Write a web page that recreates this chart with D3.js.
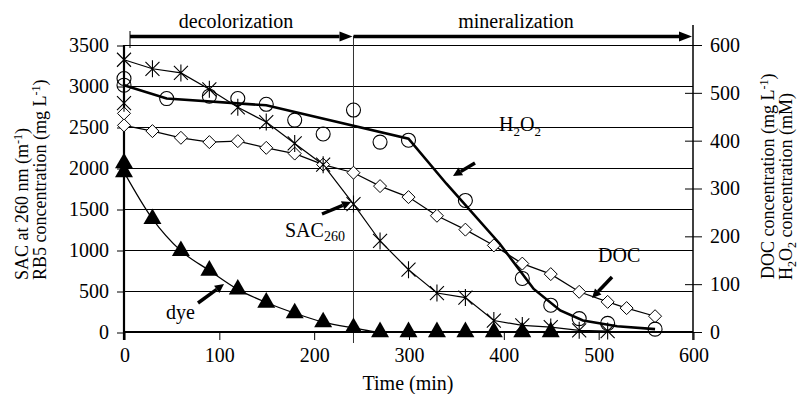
<!DOCTYPE html>
<html>
<head>
<meta charset="utf-8">
<script src="https://cdn.jsdelivr.net/npm/d3@7"></script>
<style>
  body { margin: 0; background: #fff; }
</style>
</head>
<body>
<div id="chart"></div>
<script>
// time axis (min)
const xTicks = [0, 100, 200, 300, 400, 500, 600];
const leftTicks = [0, 500, 1000, 1500, 2000, 2500, 3000, 3500];
const rightTicks = [0, 100, 200, 300, 400, 500, 600];

// RB5 dye (left axis)
const dyeT = [0, 30, 60, 90, 120, 150, 180, 210, 242, 270, 300, 330, 360, 390, 420, 450];
const dyeV = [1950, 1380, 990, 750, 520, 360, 230, 120, 50, 0, 0, 0, 0, 0, 0, 0];
const dyeExtraT = [0];
const dyeExtraV = [2060];

// SAC260 (left axis)
const sacT = [0, 30, 60, 90, 120, 150, 180, 210, 242, 270, 300, 330, 360, 390, 420, 450, 480, 510];
const sacV = [3320, 3210, 3160, 2960, 2740, 2560, 2300, 2040, 1560, 1110, 760, 475, 420, 140, 80, 60, 20, 12];
const sacExtraT = [0];
const sacExtraV = [2790];

// H2O2 (right axis)
const h2o2T = [0, 45, 90, 120, 150, 180, 210, 242, 270, 300, 360, 420, 450, 480, 510, 560];
const h2o2V = [516, 488, 493, 488, 476, 443, 414, 464, 397, 401, 275, 112, 56, 28, 18, 6];
const h2o2ExtraT = [0];
const h2o2ExtraV = [530];
// H2O2 model curve (right axis)
const h2o2FitT = [0, 45, 150, 300, 340, 396, 432, 460, 484, 520, 560];
const h2o2FitV = [516, 488, 474, 404, 310, 185, 90, 45, 24, 12, 6];

// DOC (right axis)
const docT = [0, 30, 60, 90, 120, 150, 180, 210, 242, 270, 300, 330, 360, 390, 420, 450, 480, 510, 530, 560];
const docV = [432, 420, 406, 397, 399, 385, 373, 350, 333, 305, 282, 243, 214, 181, 143, 121, 84, 63, 50, 33];
const docExtraT = [0];
const docExtraV = [457];

const phaseSplit = 242;

const width = 798, height = 394;
const fs = 20;
const sub = 13;
const serif = "Liberation Serif";

const svg = d3.select("#chart").append("svg")
  .attr("width", width).attr("height", height)
  .attr("font-family", serif);

const x = d3.scaleLinear().domain([0, 600]).range([124, 693]);
const yL = d3.scaleLinear().domain([0, 3500]).range([332, 45]);
const yR = d3.scaleLinear().domain([0, 600]).range([332, 45]);

const pts = (ts, vs) => ts.map((t, i) => [t, vs[i]]);

// gridlines
svg.append("g").selectAll("line")
  .data(leftTicks.filter(d => d > 0))
  .join("line")
  .attr("x1", x(0)).attr("x2", x(600))
  .attr("y1", d => yL(d) + 0.5).attr("y2", d => yL(d) + 0.5)
  .attr("stroke", "#000").attr("stroke-width", 1);

// phase divider
svg.append("line")
  .attr("x1", x(phaseSplit)).attr("x2", x(phaseSplit))
  .attr("y1", 36).attr("y2", 343)
  .attr("stroke", "#333").attr("stroke-width", 1);

// axes
const styleAxis = g => {
  g.attr("font-family", serif).attr("font-size", fs);
  g.select(".domain").remove();
  g.selectAll("line").attr("stroke", "#000");
  g.selectAll("text").attr("fill", "#000");
};
const fmt = d3.format("d");

svg.append("g").attr("transform", `translate(${x(0)},0.5)`)
  .call(d3.axisLeft(yL).tickValues(leftTicks).tickFormat(fmt).tickSize(7).tickPadding(8))
  .call(styleAxis);

svg.append("g").attr("transform", `translate(${x(600)},0)`)
  .call(d3.axisRight(yR).tickValues(rightTicks).tickFormat(fmt).tickSize(9).tickPadding(8))
  .call(styleAxis)
  .call(g => g.selectAll(".tick line").attr("x1", -8));

svg.append("g").attr("transform", `translate(0.5,${yL(0)})`)
  .call(d3.axisBottom(x).tickValues(xTicks).tickFormat(fmt).tickSize(8).tickPadding(8))
  .call(styleAxis);

// axis lines
svg.append("line").attr("x1", x(0)).attr("x2", x(0)).attr("y1", 45).attr("y2", 340)
  .attr("stroke", "#000").attr("stroke-width", 2.2);
svg.append("line").attr("x1", x(0)).attr("x2", x(600)).attr("y1", yL(0)).attr("y2", yL(0))
  .attr("stroke", "#000").attr("stroke-width", 2.2);
svg.append("line").attr("x1", x(600)).attr("x2", x(600)).attr("y1", 25).attr("y2", 340)
  .attr("stroke", "#000").attr("stroke-width", 1.5);

// series lines
const lineL = d3.line().x(d => x(d[0])).y(d => yL(d[1]));
const lineR = d3.line().x(d => x(d[0])).y(d => yR(d[1]));

svg.append("path").datum(pts(dyeT, dyeV).filter(d => d[0] <= 300))
  .attr("d", lineL.curve(d3.curveMonotoneX))
  .attr("fill", "none").attr("stroke", "#000").attr("stroke-width", 1.2);

svg.append("path").datum(pts(docT, docV))
  .attr("d", lineR.curve(d3.curveLinear))
  .attr("fill", "none").attr("stroke", "#000").attr("stroke-width", 1.2);

svg.append("path").datum(pts(sacT, sacV))
  .attr("d", d3.line().x(d => x(d[0])).y(d => yL(d[1])))
  .attr("fill", "none").attr("stroke", "#000").attr("stroke-width", 1.2);

// markers
const tri = d3.symbol(d3.symbolTriangle, 140);
svg.append("g").selectAll("path")
  .data(pts(dyeT, dyeV).concat(pts(dyeExtraT, dyeExtraV)))
  .join("path")
  .attr("transform", d => `translate(${x(d[0])},${yL(d[1])})`)
  .attr("d", tri).attr("fill", "#000");

svg.append("g").selectAll("path")
  .data(pts(docT, docV).concat(pts(docExtraT, docExtraV)))
  .join("path")
  .attr("transform", d => `translate(${x(d[0])},${yR(d[1])})`)
  .attr("d", "M0,-6.5L6.5,0L0,6.5L-6.5,0Z")
  .attr("fill", "#fff").attr("stroke", "#000").attr("stroke-width", 1);

svg.append("g").selectAll("path")
  .data(pts(sacT, sacV).concat(pts(sacExtraT, sacExtraV)))
  .join("path")
  .attr("transform", d => `translate(${x(d[0])},${yL(d[1])})`)
  .attr("d", "M-7,-7L7,7M-7,7L7,-7M0,-8.5V8.5")
  .attr("fill", "none").attr("stroke", "#000").attr("stroke-width", 1.1);

svg.append("g").selectAll("circle")
  .data(pts(h2o2T, h2o2V).concat(pts(h2o2ExtraT, h2o2ExtraV)))
  .join("circle")
  .attr("cx", d => x(d[0])).attr("cy", d => yR(d[1])).attr("r", 7)
  .attr("fill", "none").attr("stroke", "#000").attr("stroke-width", 1.1);

svg.append("path").datum(pts(h2o2FitT, h2o2FitV))
  .attr("d", d3.line().x(d => x(d[0])).y(d => yR(d[1])))
  .attr("fill", "none").attr("stroke", "#000").attr("stroke-width", 2.6);

// arrows
function arrow(x1, y1, x2, y2, w, len, half) {
  const a = Math.atan2(y2 - y1, x2 - x1);
  const bx = x2 - len * Math.cos(a), by = y2 - len * Math.sin(a);
  svg.append("line").attr("x1", x1).attr("y1", y1).attr("x2", bx).attr("y2", by)
    .attr("stroke", "#000").attr("stroke-width", w);
  const px = -Math.sin(a) * half, py = Math.cos(a) * half;
  svg.append("path")
    .attr("d", `M${x2},${y2}L${bx + px},${by + py}L${bx - px},${by - py}Z`)
    .attr("fill", "#000");
}

// phase arrows
svg.append("line").attr("x1", 130).attr("x2", 130).attr("y1", 31).attr("y2", 48)
  .attr("stroke", "#000").attr("stroke-width", 1);
arrow(130, 36.5, x(phaseSplit) - 1, 36.5, 3.5, 13, 5);
arrow(x(phaseSplit), 36.5, x(600) - 1, 36.5, 3.5, 13, 5);

svg.append("text").attr("x", 236).attr("y", 28).attr("text-anchor", "middle")
  .attr("font-size", fs).text("decolorization");
svg.append("text").attr("x", 516).attr("y", 28).attr("text-anchor", "middle")
  .attr("font-size", fs).text("mineralization");

// series annotations
const h = svg.append("text").attr("x", 499).attr("y", 131).attr("font-size", fs);
h.append("tspan").text("H");
h.append("tspan").attr("dy", 5).attr("font-size", sub).text("2");
h.append("tspan").attr("dy", -5).text("O");
h.append("tspan").attr("dy", 5).attr("font-size", sub).text("2");
arrow(475, 163, 453, 176, 3.5, 9, 4.5);

const s = svg.append("text").attr("x", 285).attr("y", 237).attr("font-size", fs);
s.append("tspan").text("SAC");
s.append("tspan").attr("dy", 4).attr("font-size", 14).text("260");
arrow(322, 214, 351, 202, 3.5, 9, 4.5);

svg.append("text").attr("x", 166).attr("y", 319).attr("font-size", fs).text("dye");
arrow(198, 303, 224, 284, 3.5, 9, 4.5);

svg.append("text").attr("x", 598).attr("y", 262).attr("font-size", fs).text("DOC");
arrow(612, 277, 592, 298, 3.5, 9, 4.5);

// axis titles
svg.append("text").attr("x", 408).attr("y", 390).attr("text-anchor", "middle")
  .attr("font-size", fs).text("Time (min)");

const vfs = 18, vsub = 12;
function vTitle(px, py, parts) {
  const t = svg.append("text").attr("transform", `translate(${px},${py}) rotate(-90)`)
    .attr("font-size", vfs);
  parts.forEach(p => {
    const sp = t.append("tspan").text(p[0]);
    if (p[1]) sp.attr("dy", p[1]);
    if (p[2]) sp.attr("font-size", p[2]);
  });
}
vTitle(28, 280, [["SAC at 260 nm (m"], ["-1", -6, vsub], [")", 6]]);
vTitle(46, 280, [["RB5 concentration (mg L"], ["-1", -6, vsub], [")", 6]]);
vTitle(774, 279, [["DOC concentration (mg L"], ["-1", -6, vsub], [")", 6]]);
vTitle(792, 280, [["H"], ["2", 4, vsub], ["O", -4], ["2", 4, vsub], [" concentration (mM)", -4]]);
</script>
</body>
</html>
